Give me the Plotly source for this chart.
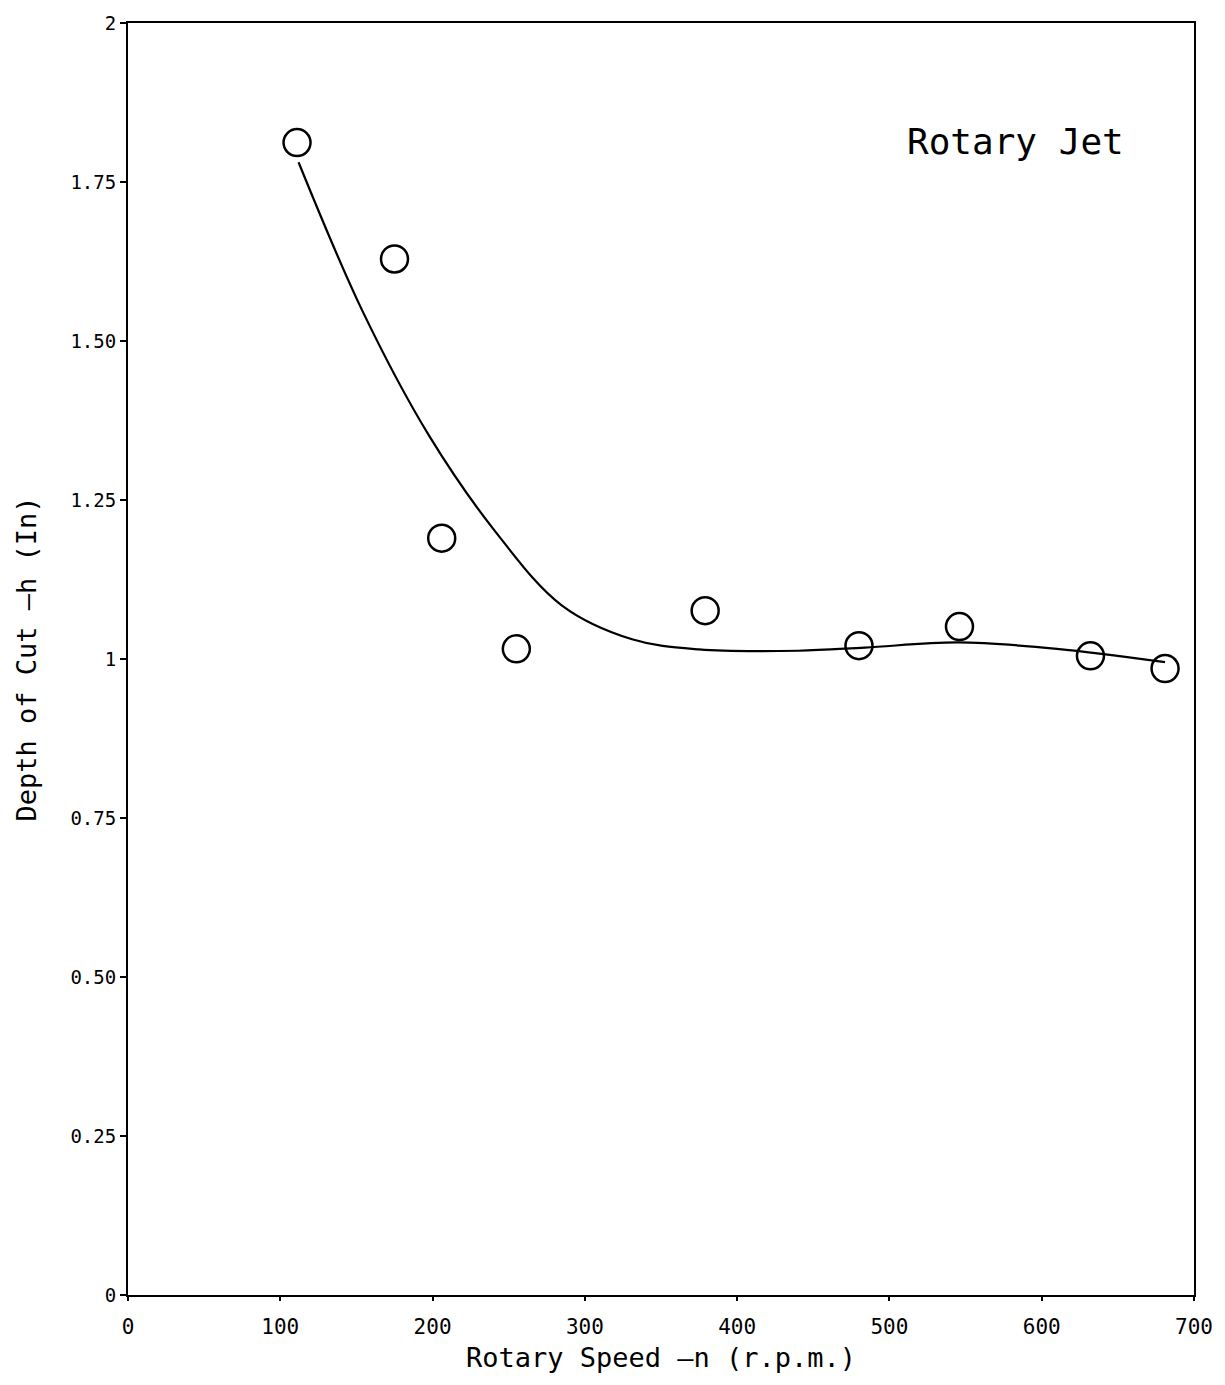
import plotly.graph_objects as go

# Measured depth of cut vs. rotary speed
speed_rpm = [111, 175, 206, 255, 379, 480, 546, 632, 681]
depth_in = [1.812, 1.629, 1.190, 1.016, 1.076, 1.021, 1.051, 1.005, 0.985]

# Smoothed fit curve through the data
fit_speed = [112, 154, 198, 242, 285, 331, 375, 440, 484, 545, 610, 681]
fit_depth = [1.781, 1.547, 1.350, 1.198, 1.084, 1.031, 1.015, 1.013, 1.018, 1.026, 1.016, 0.995]

x_ticks = [0, 100, 200, 300, 400, 500, 600, 700]
y_ticks = [0, 0.25, 0.5, 0.75, 1, 1.25, 1.5, 1.75, 2]
y_tick_text = ["0", "0.25", "0.50", "0.75", "1", "1.25", "1.50", "1.75", "2"]

font_family = "DejaVu Sans Mono"

fig = go.Figure()
fig.add_trace(go.Scatter(
    x=fit_speed, y=fit_depth, mode="lines",
    line=dict(color="black", width=2.2, shape="spline", smoothing=1.0),
    showlegend=False, hoverinfo="skip",
))
fig.add_trace(go.Scatter(
    x=speed_rpm, y=depth_in, mode="markers",
    marker=dict(symbol="circle-open", size=27, color="black", line=dict(width=2.5)),
    showlegend=False,
))

fig.add_annotation(
    x=0.936, y=0.907, xref="paper", yref="paper", xanchor="right", yanchor="middle",
    text="Rotary Jet", showarrow=False,
    font=dict(family=font_family, size=36, color="black"),
)

fig.update_xaxes(
    range=[0, 700], tickvals=x_ticks, ticktext=[str(v) for v in x_ticks],
    showgrid=False, zeroline=False, showline=True, linecolor="black", linewidth=2,
    mirror=True, ticks="outside", ticklen=4, tickcolor="black", tickwidth=2,
    ticklabelstandoff=8,
    tickfont=dict(family=font_family, size=21, color="black"),
    title=dict(text="Rotary Speed \u2014n (r.p.m.)", standoff=10,
               font=dict(family=font_family, size=27, color="black")),
)
fig.update_yaxes(
    range=[0, 2], tickvals=y_ticks, ticktext=y_tick_text,
    showgrid=False, zeroline=False, showline=True, linecolor="black", linewidth=2,
    mirror=True, ticks="outside", ticklen=6, tickcolor="black", tickwidth=2,
    tickfont=dict(family=font_family, size=19, color="black"),
    title=dict(text="Depth of Cut \u2014h (In)", standoff=26,
               font=dict(family=font_family, size=27, color="black")),
)

fig.update_layout(
    width=1225, height=1385,
    margin=dict(l=128, r=29, t=18, b=90),
    paper_bgcolor="white", plot_bgcolor="white",
)

fig.write_html("out.html")
